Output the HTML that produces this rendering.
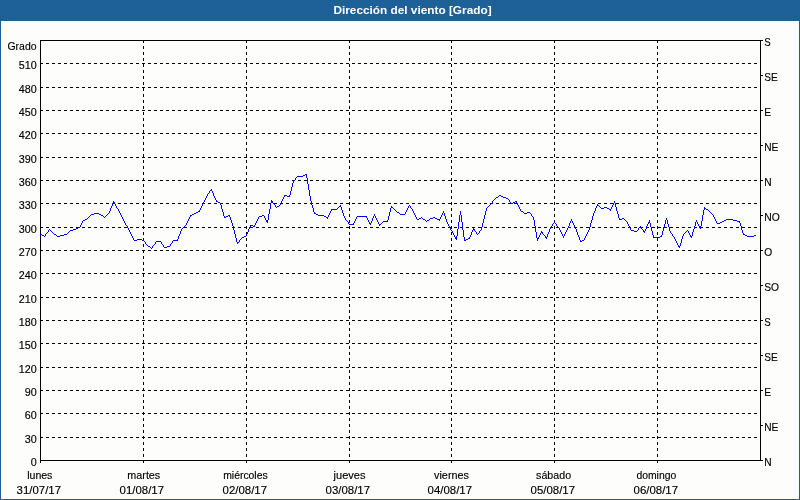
<!DOCTYPE html>
<html lang="es">
<head>
<meta charset="utf-8">
<title>Dirección del viento [Grado]</title>
<style>
html,body{margin:0;padding:0;background:#fdfdfb;}
body{width:800px;height:500px;overflow:hidden;}
svg{display:block;}
.crisp{shape-rendering:crispEdges;}
</style>
</head>
<body>
<svg width="800" height="500" viewBox="0 0 800 500">
<g class="crisp">
<defs><pattern id="dither" width="4" height="4" patternUnits="userSpaceOnUse"><rect x="1" y="1" width="1" height="1" fill="#2062b0"/><rect x="3" y="3" width="1" height="1" fill="#2062b0"/></pattern></defs>
<rect x="0" y="0" width="800" height="500" fill="#1c6095"/>
<rect x="0" y="0" width="800" height="21" fill="url(#dither)"/>
<rect x="1" y="21" width="798" height="478" fill="#fdfdfb"/>
<path d="M40 437.5H760M40 413.5H760M40 390.5H760M40 367.5H760M40 343.5H760M40 320.5H760M40 297.5H760M40 273.5H760M40 250.5H760M40 227.5H760M40 203.5H760M40 180.5H760M40 157.5H760M40 133.5H760M40 110.5H760M40 87.5H760M40 63.5H760M143.5 40V460M246.5 40V460M349.5 40V460M451.5 40V460M554.5 40V460M657.5 40V460" stroke="#000" stroke-width="1" stroke-dasharray="3 3" fill="none"/>
<path d="M40.5 40V463M760.5 40V461M40 40.5H763M40 460.5H763M143.5 461V463M246.5 461V463M349.5 461V463M451.5 461V463M554.5 461V463M657.5 461V463M761 425.5H763M761 390.5H763M761 355.5H763M761 320.5H763M761 285.5H763M761 250.5H763M761 215.5H763M761 180.5H763M761 145.5H763M761 110.5H763M761 75.5H763" stroke="#000" stroke-width="1" fill="none"/>
</g>
<path class="crisp" d="M40 234.5h2M42 235.5h2M44 236.5h1M45.5 234v2M46 233.5h1M47 232.5h1M48.5 230v2M49 229.5h1M50 230.5h1M51 231.5h1M52 232.5h1M53 233.5h1M54 234.5h2M56 235.5h1M57 236.5h3M60 235.5h4M64 234.5h3M67 233.5h1M68 232.5h1M69 231.5h1M70 230.5h3M73 229.5h3M76 228.5h2M78 227.5h2M80.5 225v2M81.5 223v2M82.5 221v2M83 220.5h2M85 219.5h2M87 218.5h1M88 217.5h1M89 216.5h1M90 215.5h1M91 214.5h3M94 213.5h5M99 214.5h2M101 215.5h2M103 216.5h1M104 217.5h1M105 216.5h1M106 215.5h1M107 214.5h1M108 213.5h1M109.5 211v2M110.5 208v3M111.5 206v2M112.5 203v3M113.5 201v2M114.5 202v2M115.5 204v2M116.5 206v2M117 208.5h1M118.5 209v2M119.5 211v2M120.5 213v2M121.5 215v2M122.5 217v2M123.5 219v2M124.5 221v2M125.5 223v2M126 225.5h1M127.5 226v2M128.5 228v2M129.5 230v2M130.5 232v2M131.5 234v2M132.5 236v2M133.5 238v2M134 240.5h3M137 239.5h5M142 240.5h2M144 241.5h1M145.5 242v2M146 244.5h1M147 245.5h1M148 246.5h2M150 247.5h1M151 248.5h1M152.5 246v2M153 245.5h1M154 244.5h1M155.5 242v2M156 241.5h5M161.5 242v2M162 244.5h1M163.5 245v2M164 247.5h3M167 246.5h3M170.5 244v2M171 243.5h1M172.5 241v2M173 240.5h5M177 239.5h1M178.5 236v3M179.5 234v2M180.5 231v3M181.5 229v2M182 228.5h1M183 227.5h1M184 226.5h1M185 225.5h1M186.5 223v2M187.5 221v2M188.5 219v2M189.5 217v2M190 215.5h2M190 216.5h1M192 214.5h2M194 213.5h2M196 212.5h2M198 211.5h2M199 210.5h1M200.5 208v2M201.5 206v2M202.5 204v2M203.5 202v2M204.5 200v2M205.5 198v2M206.5 196v2M207.5 194v2M208 193.5h1M209.5 191v2M210 190.5h2M211 189.5h1M212.5 191v2M213.5 193v3M214.5 196v2M215.5 198v2M216.5 200v2M217 201.5h1M218 202.5h2M220.5 203v2M221.5 205v4M222.5 209v3M223.5 212v4M224.5 216v2M225 217.5h1M226 216.5h2M228 215.5h2M229 216.5h1M230.5 217v3M231.5 220v3M232.5 223v3M233.5 226v4M234.5 230v4M235.5 234v4M236.5 238v4M237 242.5h2M237 243.5h1M239.5 240v2M240 239.5h1M241 238.5h1M242 237.5h2M244 236.5h2M246.5 234v2M247.5 232v2M248.5 229v3M249.5 227v2M250 225.5h3M250 226.5h1M253 226.5h2M254 225.5h1M255.5 223v2M256.5 221v2M257.5 219v2M258.5 217v2M259 216.5h3M262 215.5h2M264.5 216v2M265.5 218v2M266 220.5h2M266 221.5h2M267 222.5h1M268.5 214v6M269.5 209v5M270.5 203v6M271.5 200v3M272.5 201v2M273 203.5h1M274 204.5h1M275.5 205v2M276 207.5h1M277 206.5h2M279 205.5h1M280.5 203v2M281.5 201v2M282.5 199v2M283.5 197v2M284 195.5h3M284 196.5h1M287 196.5h3M289 195.5h1M290.5 191v4M291.5 187v4M292.5 183v4M293.5 181v2M294 180.5h1M295.5 178v2M296 177.5h1M297 176.5h6M303 175.5h2M305 174.5h2M306.5 175v3M307.5 178v6M308.5 184v6M309.5 190v6M310.5 196v5M311.5 201v4M312.5 205v3M313.5 208v4M314.5 212v2M315 213.5h1M316 214.5h2M318 215.5h6M324 216.5h2M326 217.5h2M327 218.5h1M328.5 215v2M329.5 213v2M330.5 211v2M331 209.5h6M331 210.5h1M337 208.5h1M338 207.5h1M339 206.5h2M340 205.5h1M341.5 207v3M342.5 210v3M343.5 213v3M344.5 216v2M345.5 218v2M346 220.5h1M347 221.5h1M348.5 222v2M349 224.5h5M353 223.5h1M354.5 221v2M355.5 219v2M356.5 217v2M357 216.5h10M366 217.5h1M367.5 218v2M368.5 220v2M369.5 222v2M370.5 223v2M371.5 221v2M372.5 218v3M373.5 216v2M374.5 214v2M375.5 216v2M376.5 218v2M377.5 220v2M378.5 222v2M379 224.5h2M379 225.5h1M381 223.5h1M382 222.5h1M383 221.5h5M387 220.5h1M388.5 216v4M389.5 212v4M390.5 208v4M391.5 206v2M392 207.5h1M393 208.5h1M394 209.5h1M395 210.5h1M396 211.5h1M397 212.5h2M399 213.5h1M400 214.5h5M405.5 212v2M406.5 210v2M407.5 208v2M408.5 206v2M409 205.5h1M410.5 206v2M411 208.5h1M412.5 209v2M413.5 211v2M414.5 213v2M415.5 215v2M416.5 217v2M417 219.5h2M419 218.5h2M421 217.5h1M422 218.5h1M423 219.5h2M425 220.5h1M426 221.5h1M427 220.5h2M429 219.5h1M430 218.5h3M433 217.5h2M435 218.5h2M437 219.5h3M439 220.5h1M440.5 217v2M441.5 215v2M442.5 213v2M443.5 211v2M444.5 213v3M445.5 216v3M446.5 219v3M447.5 222v2M448.5 224v2M449.5 226v2M450.5 228v2M451 230.5h1M452.5 231v2M453.5 233v2M454.5 235v2M455 237.5h2M455 238.5h2M456 236.5h1M456 239.5h1M457.5 229v7M458.5 222v7M459.5 215v7M460.5 211v4M461.5 215v7M462.5 222v8M463.5 230v7M464.5 237v4M465 240.5h1M466 239.5h2M468 238.5h2M469 237.5h1M470.5 235v2M471.5 232v3M472.5 230v2M473.5 228v2M474.5 229v2M475 231.5h1M476.5 232v2M477 234.5h1M478 233.5h1M479.5 231v2M480 230.5h1M481.5 227v3M482.5 223v4M483.5 219v4M484.5 215v4M485.5 211v4M486.5 208v3M487 207.5h1M488 206.5h1M489 205.5h1M490 204.5h1M491 203.5h1M492.5 201v2M493 200.5h1M494 199.5h1M495 198.5h1M496 197.5h2M498 196.5h1M499 195.5h2M501 196.5h2M503 197.5h3M506 198.5h2M508 199.5h1M509.5 200v2M510 202.5h1M511 203.5h2M513 202.5h2M515 201.5h2M516 202.5h1M517.5 203v2M518.5 205v2M519.5 207v2M520.5 209v2M521 211.5h2M523 212.5h1M524 213.5h3M527 212.5h3M530 213.5h1M531.5 214v2M532 216.5h1M533.5 217v3M534.5 220v6M535.5 226v6M536.5 232v6M537.5 238v3M538.5 237v2M539.5 235v2M540.5 233v2M541.5 231v2M542.5 232v2M543 234.5h1M544 235.5h1M545.5 236v2M546.5 237v2M547.5 234v3M548.5 232v2M549.5 229v3M550.5 227v2M551 226.5h1M552.5 224v2M553 223.5h1M554 222.5h1M555 223.5h1M556.5 224v2M557 226.5h1M558 227.5h1M559.5 228v2M560.5 230v2M561.5 232v2M562.5 234v2M563.5 236v2M564.5 234v2M565.5 232v2M566.5 230v2M567.5 228v2M568.5 226v2M569.5 223v3M570.5 221v2M571.5 219v2M572.5 221v2M573.5 223v2M574.5 225v2M575.5 227v2M576.5 229v3M577.5 232v3M578.5 235v2M579.5 237v3M580.5 240v2M581 241.5h1M582 240.5h2M584.5 238v2M585.5 236v2M586.5 234v2M587.5 232v2M588.5 230v2M589.5 227v3M590.5 223v4M591.5 220v3M592.5 216v4M593.5 213v3M594.5 211v2M595.5 208v3M596.5 206v2M597.5 204v2M598 205.5h1M599 206.5h1M600 207.5h1M601 208.5h3M604 207.5h3M607 208.5h2M609 209.5h2M610 210.5h1M611.5 207v2M612.5 205v2M613.5 203v2M614.5 201v2M615.5 203v4M616.5 207v4M617.5 211v3M618.5 214v4M619.5 218v2M620 219.5h2M622 218.5h2M624 219.5h1M625 220.5h1M626 221.5h1M627.5 222v2M628.5 224v2M629.5 226v2M630.5 228v2M631 230.5h3M634 231.5h3M637 230.5h1M638.5 228v2M639 227.5h1M640 226.5h1M641.5 227v2M642 229.5h1M643.5 230v2M644.5 231v2M645.5 229v2M646.5 226v3M647.5 224v2M648 222.5h2M648 223.5h1M649.5 220v2M650.5 223v4M651.5 227v4M652.5 231v4M653.5 235v3M654 237.5h6M660 236.5h2M661 235.5h1M662.5 231v4M663.5 227v4M664.5 224v3M665.5 220v4M666.5 218v2M667.5 220v4M668.5 224v3M669.5 227v4M670.5 231v2M671 233.5h1M672.5 234v2M673 236.5h1M674.5 237v2M675.5 239v2M676.5 241v2M677.5 243v2M678.5 245v2M679.5 246v2M680.5 243v3M681.5 239v4M682.5 236v3M683.5 234v2M684 233.5h1M685 232.5h1M686 231.5h1M687 230.5h1M688.5 231v2M689.5 233v2M690.5 235v2M691.5 236v2M692.5 232v4M693.5 229v3M694.5 226v3M695.5 222v4M696.5 220v2M697.5 222v2M698.5 224v2M699 226.5h2M699 227.5h2M700 228.5h1M701.5 221v5M702.5 215v6M703.5 210v5M704.5 207v3M705 208.5h1M706 209.5h2M708 210.5h1M709 211.5h1M710 212.5h1M711 213.5h1M712 214.5h1M713.5 215v2M714.5 217v2M715.5 219v2M716.5 221v2M717 223.5h3M720 222.5h2M722 221.5h2M724 220.5h2M726 219.5h7M733 220.5h4M737 221.5h3M739 222.5h1M740.5 223v3M741.5 226v4M742.5 230v3M743.5 233v2M744 234.5h1M745 235.5h2M747 236.5h7M754 235.5h2" stroke="#0000ff" stroke-width="1" fill="none"/>
<g font-family="'Liberation Sans', sans-serif" font-size="11px" fill="#000" stroke="#000" stroke-width="0.15"><text transform="translate(412.5 14) scale(1.075 1)" text-anchor="middle" font-weight="bold" fill="#fff" stroke="none">Dirección del viento [Grado]</text>
<text transform="translate(36.5 50) scale(0.95 1)" text-anchor="end">Grado</text>
<text transform="translate(36.8 466) scale(0.98 1)" text-anchor="end">0</text>
<text transform="translate(36.8 443) scale(0.98 1)" text-anchor="end">30</text>
<text transform="translate(36.8 419) scale(0.98 1)" text-anchor="end">60</text>
<text transform="translate(36.8 396) scale(0.98 1)" text-anchor="end">90</text>
<text transform="translate(36.8 373) scale(0.98 1)" text-anchor="end">120</text>
<text transform="translate(36.8 349) scale(0.98 1)" text-anchor="end">150</text>
<text transform="translate(36.8 326) scale(0.98 1)" text-anchor="end">180</text>
<text transform="translate(36.8 303) scale(0.98 1)" text-anchor="end">210</text>
<text transform="translate(36.8 279) scale(0.98 1)" text-anchor="end">240</text>
<text transform="translate(36.8 256) scale(0.98 1)" text-anchor="end">270</text>
<text transform="translate(36.8 233) scale(0.98 1)" text-anchor="end">300</text>
<text transform="translate(36.8 209) scale(0.98 1)" text-anchor="end">330</text>
<text transform="translate(36.8 186) scale(0.98 1)" text-anchor="end">360</text>
<text transform="translate(36.8 163) scale(0.98 1)" text-anchor="end">390</text>
<text transform="translate(36.8 139) scale(0.98 1)" text-anchor="end">420</text>
<text transform="translate(36.8 116) scale(0.98 1)" text-anchor="end">450</text>
<text transform="translate(36.8 93) scale(0.98 1)" text-anchor="end">480</text>
<text transform="translate(36.8 69) scale(0.98 1)" text-anchor="end">510</text>
<text transform="translate(764.2 466) scale(0.93 1)">N</text>
<text transform="translate(764.2 431) scale(0.93 1)">NE</text>
<text transform="translate(764.2 396) scale(0.93 1)">E</text>
<text transform="translate(764.2 361) scale(0.92 1)">SE</text>
<text transform="translate(764.2 326) scale(0.88 1)">S</text>
<text transform="translate(764.2 291) scale(0.93 1)">SO</text>
<text transform="translate(764.2 256) scale(0.93 1)">O</text>
<text transform="translate(764.2 221) scale(0.94 1)">NO</text>
<text transform="translate(764.2 186) scale(0.93 1)">N</text>
<text transform="translate(764.2 151) scale(0.93 1)">NE</text>
<text transform="translate(764.2 116) scale(0.93 1)">E</text>
<text transform="translate(764.2 81) scale(0.92 1)">SE</text>
<text transform="translate(764.2 46) scale(0.88 1)">S</text>
<text transform="translate(39.8 479) scale(0.96 1)" text-anchor="middle">lunes</text>
<text transform="translate(38.8 494) scale(1.04 1)" text-anchor="middle">31/07/17</text>
<text transform="translate(143.8 479) scale(0.98 1)" text-anchor="middle">martes</text>
<text transform="translate(141.8 494) scale(1.04 1)" text-anchor="middle">01/08/17</text>
<text transform="translate(245.4 479) scale(0.945 1)" text-anchor="middle">miércoles</text>
<text transform="translate(244.8 494) scale(1.04 1)" text-anchor="middle">02/08/17</text>
<text x="349.5" y="479" text-anchor="middle">jueves</text>
<text transform="translate(347.8 494) scale(1.04 1)" text-anchor="middle">03/08/17</text>
<text transform="translate(451.5 479) scale(0.985 1)" text-anchor="middle">viernes</text>
<text transform="translate(449.8 494) scale(1.04 1)" text-anchor="middle">04/08/17</text>
<text transform="translate(553.6 479) scale(0.97 1)" text-anchor="middle">sábado</text>
<text transform="translate(552.8 494) scale(1.04 1)" text-anchor="middle">05/08/17</text>
<text transform="translate(656.3 479) scale(0.945 1)" text-anchor="middle">domingo</text>
<text transform="translate(655.8 494) scale(1.04 1)" text-anchor="middle">06/08/17</text></g>
</svg>
</body>
</html>
